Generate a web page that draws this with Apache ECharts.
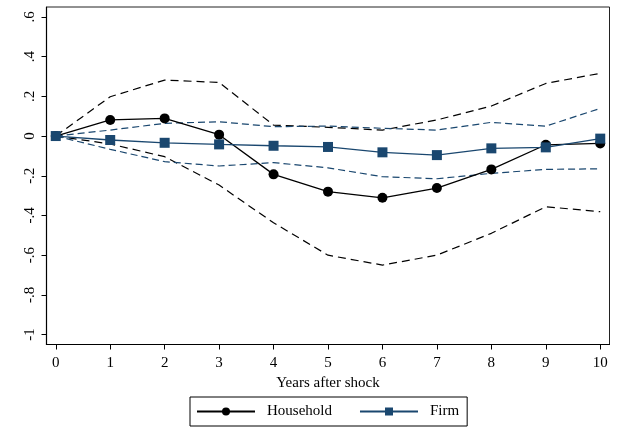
<!DOCTYPE html>
<html>
<head>
<meta charset="utf-8">
<script src="https://cdn.jsdelivr.net/npm/echarts@6/dist/echarts.min.js"></script>
<style>
html,body{margin:0;padding:0;background:#fff;}
#chart{width:618px;height:430px;}
</style>
</head>
<body>
<div id="chart"></div>
<script>
const years = [0,1,2,3,4,5,6,7,8,9,10];
const household      = [0, 0.081, 0.089, 0.007, -0.193, -0.280, -0.311, -0.262, -0.168, -0.044, -0.037];
const householdUpper = [0, 0.198, 0.282, 0.270, 0.055, 0.044, 0.030, 0.081, 0.151, 0.265, 0.316];
const householdLower = [0, -0.040, -0.104, -0.247, -0.437, -0.600, -0.650, -0.600, -0.490, -0.356, -0.381];
const firm      = [0, -0.020, -0.034, -0.042, -0.049, -0.055, -0.082, -0.096, -0.062, -0.057, -0.013];
const firmUpper = [0, 0.030, 0.064, 0.072, 0.047, 0.050, 0.039, 0.030, 0.069, 0.050, 0.139];
const firmLower = [0, -0.067, -0.129, -0.151, -0.134, -0.160, -0.205, -0.215, -0.188, -0.168, -0.165];
const yTicks = [-1, -0.8, -0.6, -0.4, -0.2, 0, 0.2, 0.4, 0.6];
const xTicks = [0,1,2,3,4,5,6,7,8,9,10];

const FONT = '"Liberation Serif", "DejaVu Serif", serif';
const NAVY = '#1a476f';
const pair = arr => years.map((x, i) => [x, arr[i]]);
const fmtY = v => {
  if (Math.abs(v) < 1e-9) return '0';
  const s = String(Math.abs(Math.round(v * 10) / 10)).replace(/^0/, '');
  return (v < 0 ? '-' : '') + s;
};

const chart = echarts.init(document.getElementById('chart'), null, {renderer: 'canvas'});
chart.setOption({
  backgroundColor: '#fff',
  animation: false,
  grid: {
    left: 46.5, right: 8.5, top: 7, bottom: 85.5,
    show: true, borderColor: '#222', borderWidth: 1, backgroundColor: '#fff'
  },
  xAxis: {
    type: 'value', min: -0.17, max: 10.17,
    name: 'Years after shock', nameLocation: 'middle', nameGap: 31,
    nameTextStyle: {fontFamily: FONT, fontSize: 15, color: '#000'},
    splitLine: {show: false},
    axisLine: {show: true, onZero: false, lineStyle: {color: '#000', width: 1.2}},
    axisTick: {show: true, length: 5, lineStyle: {color: '#000'}, customValues: xTicks},
    axisLabel: {fontFamily: FONT, fontSize: 15, color: '#000', margin: 11, customValues: xTicks,
      formatter: v => String(v)}
  },
  yAxis: {
    type: 'value', min: -1.05, max: 0.65,
    splitLine: {show: false},
    axisLine: {show: true, onZero: false, lineStyle: {color: '#000', width: 1.2}},
    axisTick: {show: true, length: 5, lineStyle: {color: '#000'}, customValues: yTicks},
    axisLabel: {fontFamily: FONT, fontSize: 15, color: '#000', margin: 9, rotate: 90,
      customValues: yTicks, formatter: fmtY}
  },
  legend: {
    data: ['Household', 'Firm'],
    left: 190, top: 397,
    orient: 'horizontal',
    borderColor: '#000', borderWidth: 1,
    padding: [7, 8, 7, 6],
    itemWidth: 58, itemHeight: 10, itemGap: 27,
    textStyle: {fontFamily: FONT, fontSize: 15, color: '#000', padding: [0, 0, 0, 7]}
  },
  series: [
    {name: 'hhU', type: 'line', data: pair(householdUpper), symbol: 'none', silent: true,
      lineStyle: {color: '#000', width: 1.2, type: [8, 5]}, z: 2},
    {name: 'hhL', type: 'line', data: pair(householdLower), symbol: 'none', silent: true,
      lineStyle: {color: '#000', width: 1.2, type: [8, 5]}, z: 2},
    {name: 'fU', type: 'line', data: pair(firmUpper), symbol: 'none', silent: true,
      lineStyle: {color: NAVY, width: 1.2, type: [7, 4]}, z: 2},
    {name: 'fL', type: 'line', data: pair(firmLower), symbol: 'none', silent: true,
      lineStyle: {color: NAVY, width: 1.2, type: [7, 4]}, z: 2},
    {name: 'Household', type: 'line', data: pair(household), symbol: 'circle', symbolSize: 10,
      itemStyle: {color: '#000'}, lineStyle: {color: '#000', width: 1.3}, z: 3},
    {name: 'Firm', type: 'line', data: pair(firm), symbol: 'rect', symbolSize: 10,
      itemStyle: {color: NAVY}, lineStyle: {color: NAVY, width: 1.3}, z: 4}
  ]
});
</script>
</body>
</html>
